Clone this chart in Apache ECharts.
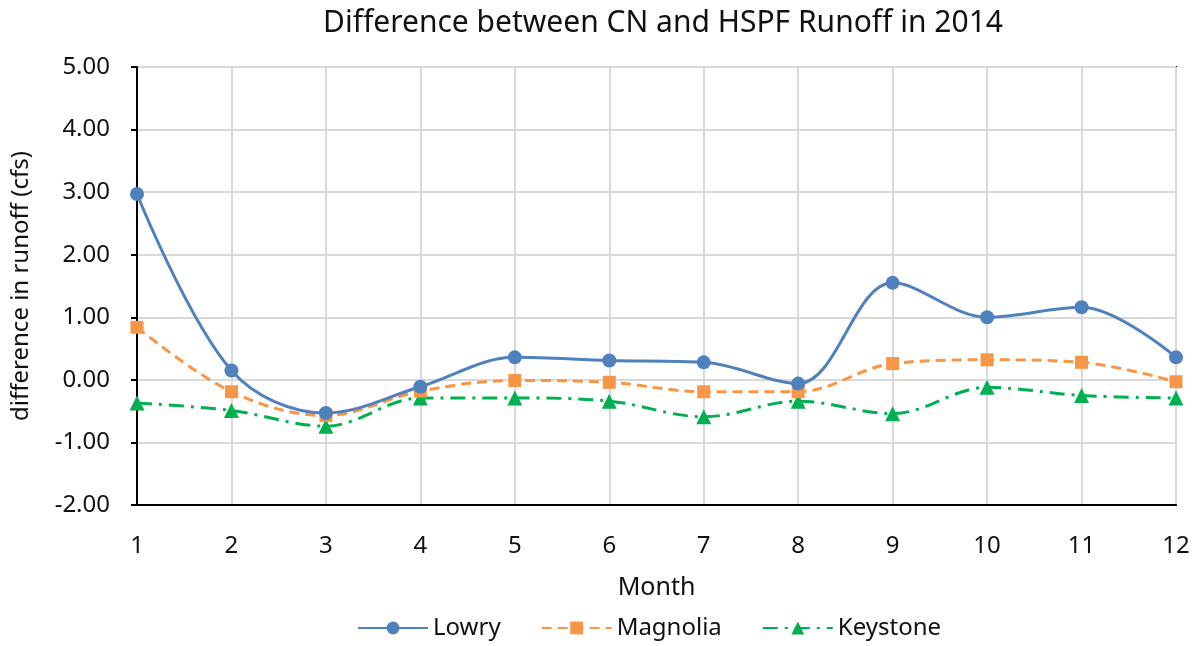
<!DOCTYPE html>
<html>
<head>
<meta charset="utf-8">
<script src="https://cdn.jsdelivr.net/npm/echarts@6/dist/echarts.min.js"></script>
<style>
  html, body { margin: 0; padding: 0; background: #fff; }
  #chart { width: 1198px; height: 646px; }
</style>
</head>
<body>
<div id="chart"></div>
<script>
var months = ["1", "2", "3", "4", "5", "6", "7", "8", "9", "10", "11", "12"];
var lowry = [2.97, 0.15, -0.53, -0.11, 0.36, 0.31, 0.28, -0.06, 1.55, 1.00, 1.16, 0.36];
var magnolia = [0.84, -0.19, -0.57, -0.18, -0.01, -0.04, -0.19, -0.19, 0.26, 0.32, 0.28, -0.03];
var keystone = [-0.37, -0.49, -0.74, -0.29, -0.29, -0.34, -0.59, -0.34, -0.54, -0.12, -0.25, -0.29];

var chart = echarts.init(document.getElementById("chart"));
var font = "Noto Sans";

var option = {
  animation: false,
  textStyle: { fontFamily: font },
  title: {
    text: "Difference between CN and HSPF Runoff in 2014",
    left: 318,
    top: 3,
    textStyle: { fontFamily: font, fontSize: 30, fontWeight: "normal", color: "#111" }
  },
  legend: {
    bottom: 1,
    left: 352,
    itemWidth: 70,
    itemHeight: 16,
    itemGap: 40,
    textStyle: { fontFamily: font, fontSize: 24, color: "#111" },
    data: ["Lowry", "Magnolia", "Keystone"]
  },
  grid: { left: 137, right: 22, top: 67, bottom: 141, show: true, borderColor: "#000", borderWidth: 2 },
  xAxis: {
    type: "category",
    data: months,
    boundaryGap: false,
    name: "Month",
    nameLocation: "middle",
    nameGap: 70,
    nameTextStyle: { fontSize: 25, color: "#111" },
    axisLine: { onZero: false, lineStyle: { color: "#000", width: 2 } },
    axisTick: { show: false },
    axisLabel: { fontSize: 24, color: "#111", margin: 29 },
    splitLine: { show: true, lineStyle: { color: "#d9d9d9", width: 2 } }
  },
  yAxis: {
    type: "value",
    min: -2,
    max: 5,
    interval: 1,
    name: "difference in runoff (cfs)",
    nameLocation: "middle",
    nameGap: 104,
    nameTextStyle: { fontSize: 24, color: "#111" },
    axisLine: { show: true, lineStyle: { color: "#000", width: 2 } },
    axisTick: { show: true, length: 6, lineStyle: { color: "#000", width: 2 } },
    axisLabel: { fontSize: 24, color: "#111", margin: 27, formatter: function (v) { return v.toFixed(2); } },
    splitLine: { lineStyle: { color: "#d9d9d9", width: 2 } }
  },
  series: [
    {
      name: "Lowry",
      type: "line",
      data: lowry,
      smooth: 0.35,
      symbol: "circle",
      symbolSize: 14,
      itemStyle: { color: "#4f81bd" },
      lineStyle: { color: "#4f81bd", width: 3 },
      z: 4
    },
    {
      name: "Magnolia",
      type: "line",
      data: magnolia,
      smooth: 0.35,
      symbol: "rect",
      symbolSize: 13,
      itemStyle: { color: "#f79646" },
      lineStyle: { color: "#f79646", width: 3, type: [10, 6] },
      z: 3
    },
    {
      name: "Keystone",
      type: "line",
      data: keystone,
      smooth: 0.35,
      symbol: "triangle",
      symbolSize: 15,
      itemStyle: { color: "#00b050" },
      lineStyle: { color: "#00b050", width: 3, type: [15, 7, 3, 7] },
      z: 2
    }
  ]
};

chart.setOption(option);
</script>
</body>
</html>
